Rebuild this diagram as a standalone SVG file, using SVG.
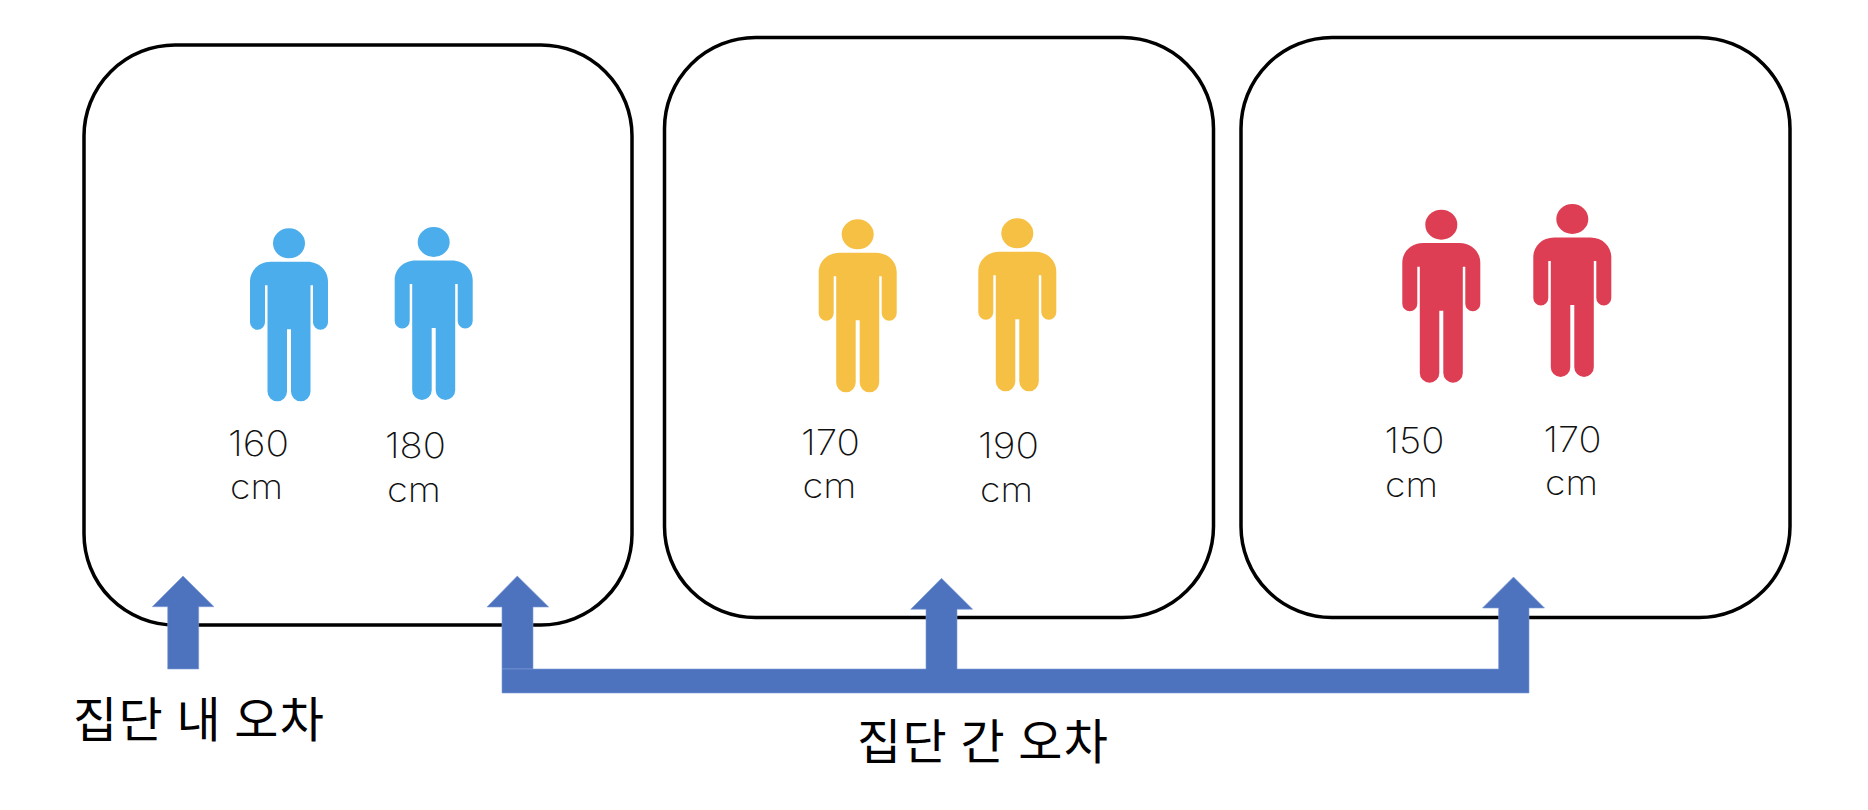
<svg xmlns="http://www.w3.org/2000/svg" width="1868" height="810" viewBox="0 0 1868 810">
<style>
.box{fill:#fff;stroke:#000;stroke-width:3.500}
.num{font-family:"Inter","Liberation Sans",sans-serif;font-weight:200;font-size:35px;fill:#111}
.lab{font-family:"Noto Sans CJK KR",sans-serif;font-size:48px;fill:#000}
.arr{fill:#4e73be;stroke:#7d9ad6;stroke-width:.6}
.blue{fill:#4badeb}.yellow{fill:#f6c044}.red{fill:#dd3e53}
</style>
<defs>
<g id="person">
<ellipse cx="0" cy="0" rx="16" ry="15"/>
<path d="M-18 18.400H18C31 18.400 39 28 39 38V79A7.500 7.500 0 0 1 24 79V42H21.500V148.200A9.500 9.500 0 0 1 2 148.200V86H-2V148.200A9.500 9.500 0 0 1 -21.500 148.200V42H-24V79A7.500 7.500 0 0 1 -39 79V38C-39 28 -31 18.400 -18 18.400Z"/>
</g>
</defs>
<g id="group1"><rect class="box" x="84" y="45" width="548" height="580" rx="91" ry="91"/></g>
<g id="group2"><rect class="box" x="664.500" y="37.500" width="549" height="580" rx="91" ry="91"/></g>
<g id="group3"><rect class="box" x="1241" y="37.500" width="549" height="580" rx="91" ry="91"/></g>
<g id="person1"><use href="#person" class="blue" x="289" y="243.300"/><text class="num" x="228" y="455.700" textLength="61" lengthAdjust="spacingAndGlyphs">160</text><text class="num" x="230" y="499" textLength="53" lengthAdjust="spacingAndGlyphs">cm</text></g>
<g id="person2"><use href="#person" class="blue" x="433.700" y="242"/><text class="num" x="385" y="458" textLength="61" lengthAdjust="spacingAndGlyphs">180</text><text class="num" x="387" y="502" textLength="54" lengthAdjust="spacingAndGlyphs">cm</text></g>
<g id="person3"><use href="#person" class="yellow" x="857.700" y="234.300"/><text class="num" x="801" y="455" textLength="59" lengthAdjust="spacingAndGlyphs">170</text><text class="num" x="802.500" y="498.300" textLength="54" lengthAdjust="spacingAndGlyphs">cm</text></g>
<g id="person4"><use href="#person" class="yellow" x="1017.300" y="233.300"/><text class="num" x="978" y="458.300" textLength="61" lengthAdjust="spacingAndGlyphs">190</text><text class="num" x="980" y="501.700" textLength="53" lengthAdjust="spacingAndGlyphs">cm</text></g>
<g id="person5"><use href="#person" class="red" x="1441.300" y="224.700"/><text class="num" x="1384.500" y="453.300" textLength="60" lengthAdjust="spacingAndGlyphs">150</text><text class="num" x="1385" y="496.700" textLength="53" lengthAdjust="spacingAndGlyphs">cm</text></g>
<g id="person6"><use href="#person" class="red" x="1572.300" y="219"/><text class="num" x="1543.500" y="451.700" textLength="58" lengthAdjust="spacingAndGlyphs">170</text><text class="num" x="1545" y="495" textLength="53" lengthAdjust="spacingAndGlyphs">cm</text></g>
<g id="connectors">
<path class="arr" d="M183 576L214 606.700H198.700V669H167.700V606.700H152.300Z"/>
<path class="arr" d="M517.300 576L548.700 607H533V669H502V607H487Z"/>
<path class="arr" d="M502 669H926V609.300H910.700L941.500 578.300L972.700 609.300H957V669H1498.600V608H1482.500L1513.500 577L1544.500 608H1529V693H502Z"/>
</g>
<text id="label1" class="lab" x="73" y="737" textLength="251">집단 내 오차</text>
<text id="label2" class="lab" x="857" y="759" textLength="251">집단 간 오차</text>
</svg>
